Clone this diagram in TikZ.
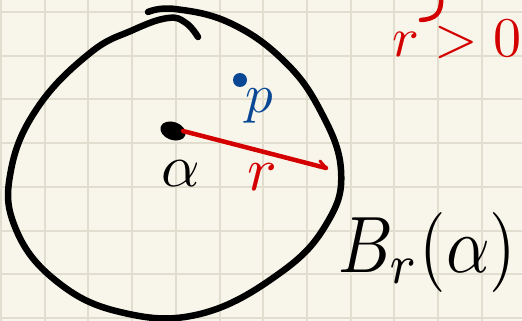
\documentclass[tikz,border=0pt]{standalone}
\usetikzlibrary{shapes.geometric}
\begin{document}
\begin{tikzpicture}[x=1pt,y=-1pt,
  gridline/.style={draw=gridc,line width=2pt},
  ink/.style={line width=6.5pt,line cap=round,line join=round},
  redink/.style={draw=inkred,line width=4.5pt,line cap=round},
  lbl/.style={inner sep=0pt,outer sep=0pt}]
\definecolor{paper}{RGB}{248,246,234}
\definecolor{gridc}{RGB}{225,222,208}
\definecolor{inkred}{RGB}{212,0,0}
\definecolor{inkblue}{RGB}{10,72,150}
\clip (0,0) rectangle (522,321);
\fill[paper] (0,0) rectangle (522,321);
% grid
\foreach \k in {0,...,11} \draw[gridline] ({1+43.7*\k},0) -- ({1+43.7*\k},321);
\foreach \k in {0,...,7} \draw[gridline] (0,{12+43.7*\k}) -- (522,{12+43.7*\k});
% the ball
\draw[ink] plot[smooth,tension=0.7] coordinates {(148,12) (175,9) (230,23) (283,60) (320,110) (341,170) (327,223) (280,273) (200,314) (120,312) (55,280) (15,227) (11,170) (38,107) (90,53) (133,30) (168,18) (186,23) (198,37)};
% centre
\node[fill=black,ellipse,minimum width=26pt,minimum height=18pt,rotate=-20,lbl] (a) at (173,131) {};
\node[lbl,scale=6] (alab) at (181,174) {$\alpha$};
\coordinate (rend) at (326,168);
\draw[redink] (a.center) ++(10,0) -- (rend);
\draw[redink,line width=3pt] (rend) -- (320,161);
\node[lbl,text=inkred,scale=6.2] (rlab) at (262,177) {$r$};
% point p
\node[circle,fill=inkblue,minimum size=14pt,lbl] (pdot) at (240,80) {};
\node[lbl,text=inkblue,scale=5.5] (plab) at (259,106) {$p$};
% ball label
\node[lbl,xscale=6.8,yscale=8,anchor=west] (blab) at (338,252) {$B_r(\alpha)$};
% top right
\node[lbl,text=inkred,scale=5.6,anchor=base west] (cond) at (392,57) {$r > 0$};
\draw[redink] (441,-3) .. controls (442,14) and (435,19) .. (421,20);
\end{tikzpicture}
\end{document}
